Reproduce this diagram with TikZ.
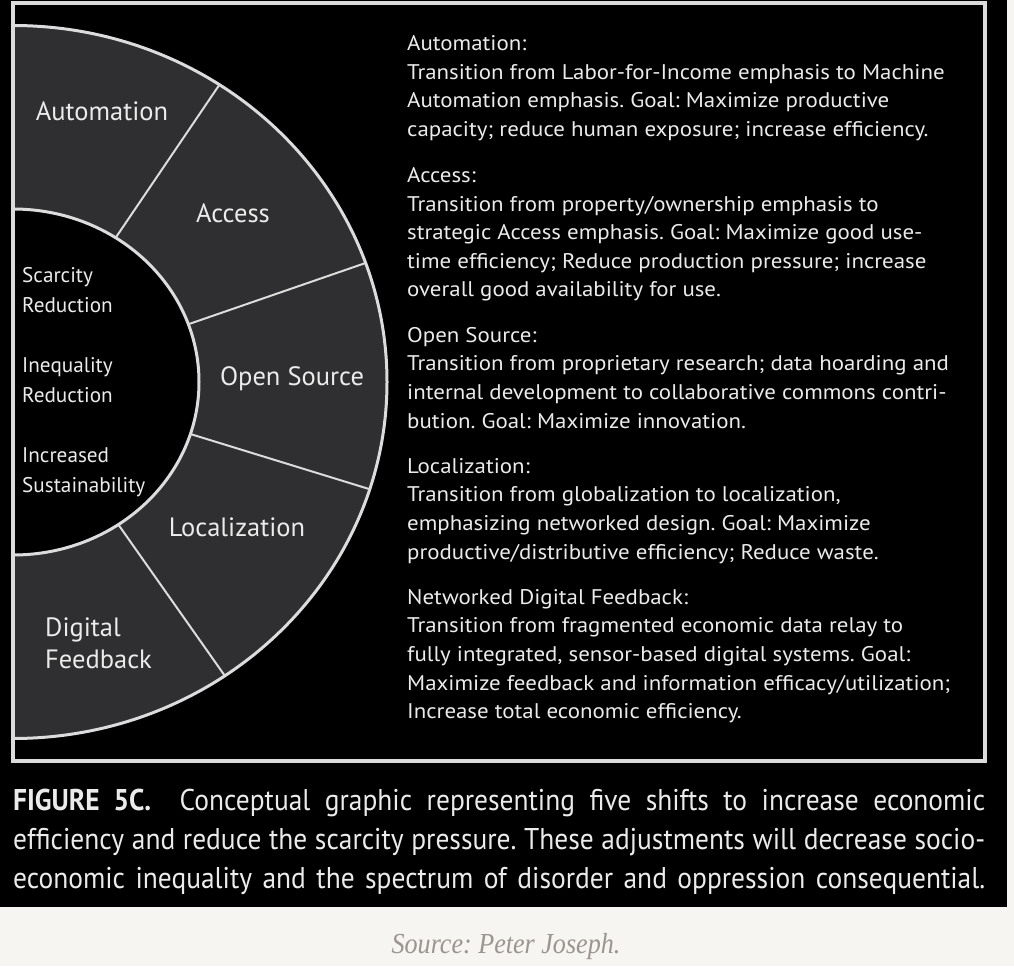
\documentclass[tikz,border=0pt]{standalone}
\usepackage{fontspec}
\setmainfont{PT Sans}
\newfontfamily\descfont[FakeStretch=1.08]{PT Sans}
\newfontfamily\capfont[FakeStretch=0.915]{PT Sans}
\newfontfamily\srcfont[FakeStretch=0.9]{Liberation Serif}
\definecolor{ringgray}{HTML}{2F2E30}
\definecolor{linegray}{HTML}{DCDCDC}
\definecolor{txt}{HTML}{EBEBEB}
\definecolor{paper}{HTML}{F6F5F1}
\definecolor{srcgray}{HTML}{9A958F}
\begin{document}
\frenchspacing
\begin{tikzpicture}[x=1pt,y=1pt,
  ringlabel/.style={text=txt, font=\fontsize{26.5}{32}\selectfont, inner sep=0, anchor=base},
  ringblock/.style={text=txt, font=\fontsize{26.5}{32}\selectfont, inner sep=0, align=left, anchor=north west},
  innerlabel/.style={text=txt, font=\fontsize{21.2}{30}\selectfont, align=left, anchor=north west, inner sep=0},
  desc/.style={text=txt, font=\descfont\fontsize{21.2}{28.6}\selectfont, align=left, anchor=north west, inner sep=0},
  frame/.style={draw=linegray, line width=4pt},
  arcline/.style={draw=linegray, line width=3pt},
  divider/.style={draw=linegray, line width=2pt},
  caption/.style={text=txt, font=\capfont\fontsize{30}{39}\selectfont, anchor=base west, inner sep=0},
]
\useasboundingbox (0,0) rectangle (1014,-966);
\fill[paper] (0,0) rectangle (1014,-966);
\fill[black] (0,0) rectangle (1007,-907);
% ring
\coordinate (C) at (13,-382);
\fill[ringgray] (13,-25.5) arc[start angle=90,end angle=-90,x radius=374,y radius=356.5]
  -- (13,-555) arc[start angle=-90,end angle=90,x radius=186,y radius=173] -- cycle;
\draw[arcline] (13,-25.5) arc[start angle=90,end angle=-90,x radius=374,y radius=356.5];
\draw[arcline] (13,-209) arc[start angle=90,end angle=-90,x radius=186,y radius=173];
% dividers
\foreach \n/\a in {1/56.5, 2/19.5, 3/-17.5, 4/-55.5}{
  \coordinate (d\n i) at ({13+186*cos(\a)},{-382+173*sin(\a)});
  \coordinate (d\n o) at ({13+374*cos(\a)},{-382+356.5*sin(\a)});
  \draw[divider] (d\n i) -- (d\n o);
}
\draw[frame] (13,-3) rectangle (985,-761);
% ring labels
\node[ringlabel] (lauto) at (102,-120) {Automation};
\node[ringlabel] (lacc) at (233,-222) {Access};
\node[ringlabel] (lopen) at (292,-385) {Open Source};
\node[ringlabel] (lloc) at (237,-536) {Localization};
\node[ringblock] (ldig) at (45,-618) {Digital\\Feedback};
% inner labels
\node[innerlabel] (iscar) at (22,-267.5) {Scarcity\\Reduction};
\node[innerlabel] (iineq) at (22,-357.5) {Inequality\\Reduction};
\node[innerlabel] (iincr) at (22,-447.5) {Increased\\Sustainability};
% descriptions
\node[desc] (tauto) at (407,-35.3) {Automation:\\Transition from Labor-for-Income emphasis to Machine\\Automation emphasis. Goal: Maximize productive\\capacity; reduce human exposure; increase efficiency.};
\node[desc] (tacc) at (407,-167.3) {Access:\\Transition from property/ownership emphasis to\\strategic Access emphasis. Goal: Maximize good use-\\time efficiency; Reduce production pressure; increase\\overall good availability for use.};
\node[desc] (topen) at (407,-327) {Open Source:\\Transition from proprietary research; data hoarding and\\internal development to collaborative commons contri-\\bution. Goal: Maximize innovation.};
\node[desc] (tloc) at (407,-458) {Localization:\\Transition from globalization to localization,\\emphasizing networked design. Goal: Maximize\\productive/distributive efficiency; Reduce waste.};
\node[desc] (tnet) at (407,-589) {Networked Digital Feedback:\\Transition from fragmented economic data relay to\\fully integrated, sensor-based digital systems. Goal:\\Maximize feedback and information efficacy/utilization;\\Increase total economic efficiency.};
% caption
\node[caption] (cap1) at (13,-810) {\makebox[972pt][s]{\bfseries FIGURE 5C.\mdseries\hspace{14pt} Conceptual graphic representing five shifts to increase economic}};
\node[caption] (cap2) at (13,-849) {\makebox[972pt][s]{efficiency and reduce the scarcity pressure. These adjustments will decrease socio-}};
\node[caption] (cap3) at (13,-888) {\makebox[972pt][s]{economic inequality and the spectrum of disorder and oppression consequential.}};
% source
\node[text=srcgray, font=\srcfont\itshape\fontsize{29}{32}\selectfont, anchor=base, inner sep=0] (src) at (506,-953) {Source: Peter Joseph.};
\end{tikzpicture}
\end{document}
